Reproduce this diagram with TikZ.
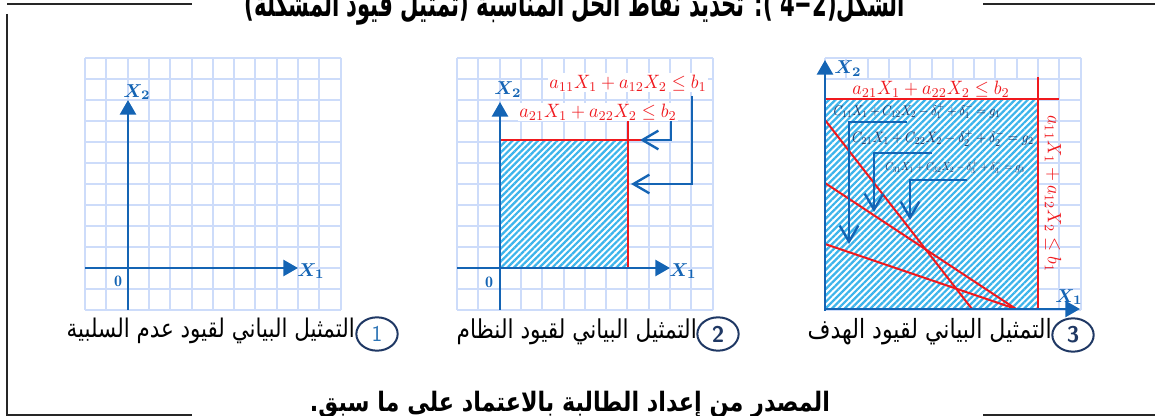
\documentclass[tikz,border=0pt]{standalone}
\usepackage{amsmath,bm}
\usepackage{fontspec}
\usepackage{graphicx}
\newfontfamily\arabicfont[Script=Arabic]{DejaVu Sans}
\TeXXeTstate=1
\usetikzlibrary{arrows.meta,patterns.meta,shapes.geometric}
\definecolor{gridc}{RGB}{205,220,250}
\definecolor{axisc}{RGB}{20,100,180}
\definecolor{redc}{RGB}{240,25,30}
\definecolor{hatchc}{RGB}{60,180,235}
\definecolor{eqc}{RGB}{35,52,98}
\definecolor{navy}{RGB}{31,56,100}
\definecolor{digitblue}{RGB}{46,117,182}
\tikzset{
  gridline/.style={draw=gridc, line width=1.5pt},
  axis/.style={draw=axisc, line width=2pt, -{Triangle[length=11pt,width=12pt]}},
  conline/.style={draw=axisc, line width=1.8pt, -{Straight Barb[length=12pt,width=14pt]}},
  redline/.style={draw=redc, line width=1.5pt},
  hatch/.style={pattern={Lines[angle=45,distance=3.4pt,line width=1.7pt]}, pattern color=hatchc},
  axlab/.style={text=axisc, inner sep=0pt},
  redlab/.style={text=redc, fill=white, inner sep=1pt},
  eqlab/.style={text=eqc, inner sep=0pt},
  numcirc/.style={ellipse, draw=navy, line width=1.5pt, minimum width=31pt, minimum height=25pt, inner sep=0pt, fill=white, font=\fontsize{17}{17}\sffamily\bfseries},
  capt/.style={anchor=base east, inner sep=0pt},
  frameline/.style={draw=black!85, line width=1.5pt}
}
\newcommand\mygridat[1]{%
  \foreach \i in {0,...,12}{\draw[gridline] ({#1+\i*21.3},58) -- ({#1+\i*21.3},310);}
  \foreach \j in {0,...,12}{\draw[gridline] (#1,{58+\j*21}) -- ({#1+255.6},{58+\j*21});}
}
\begin{document}
\begin{tikzpicture}[x=0.75pt,y=-0.75pt]
\useasboundingbox (0,0) rectangle (1155,416);
% frame
\draw[frameline] (7,4) -- (192,4);
\draw[frameline] (983,4) -- (1155,4);
\draw[frameline] (7,14) -- (7,415) -- (192,415);
\draw[frameline] (983,415) -- (1155,415);
\node[anchor=base, inner sep=0pt] (title) at (575,17) {\scalebox{1}[1.7]{\resizebox{495pt}{!}{\arabicfont\bfseries\beginR الشكل(\beginL 4−2\endL{} ): تحديد نقاط الحل المناسبة (تمثيل قيود المشكلة)\endR}}};
\node[anchor=base, inner sep=0pt] (source) at (570,411) {\scalebox{1}[1.2]{\resizebox{390pt}{!}{\arabicfont\bfseries\beginR المصدر من إعداد الطالبة بالاعتماد على ما سبق.\endR}}};

% ---------- panel 1
\mygridat{85}
\coordinate (o1b) at (128,310); \coordinate (o1t) at (128,100);
\coordinate (o1l) at (85,268); \coordinate (o1r) at (298,268);
\draw[axis] (o1b) -- (o1t);
\draw[axis] (o1l) -- (o1r);
\node[axlab] (p1x2) at (137,92) {\scalebox{1.4}{$\bm{X_2}$}};
\node[axlab] (p1x1) at (311,271) {\scalebox{1.4}{$\bm{X_1}$}};
\node[axlab] (p1o) at (118,281) {\scalebox{1.2}{$\mathbf{0}$}};

% ---------- panel 2
\mygridat{457}
\fill[white] (500,141) rectangle (627,268);
\fill[hatch] (500,141) rectangle (627,268);
\coordinate (r2a) at (500,140); \coordinate (r2b) at (657,140);
\coordinate (r2c) at (628,121); \coordinate (r2d) at (628,268);
\draw[redline] (r2a) -- (r2b);
\draw[redline] (r2c) -- (r2d);
\coordinate (o2b) at (500,310); \coordinate (o2t) at (500,102);
\coordinate (o2l) at (457,268); \coordinate (o2r) at (670,268);
\draw[axis] (o2b) -- (o2t);
\draw[axis] (o2l) -- (o2r);
\node[axlab] (p2x2) at (508,90) {\scalebox{1.4}{$\bm{X_2}$}};
\node[axlab] (p2x1) at (683,271) {\scalebox{1.4}{$\bm{X_1}$}};
\node[axlab] (p2o) at (489,282) {\scalebox{1.2}{$\mathbf{0}$}};
\node[redlab] (p2b1) at (628,83) {\scalebox{1.35}[1.45]{$a_{11}X_1 + a_{12}X_2 \le b_1$}};
\node[redlab] (p2b2) at (598,112) {\scalebox{1.35}[1.45]{$a_{21}X_1 + a_{22}X_2 \le b_2$}};
\coordinate (c1a) at (671,121); \coordinate (c1t) at (640,140);
\coordinate (c2a) at (692,96); \coordinate (c2t) at (631,184);
\draw[conline] (c1a) |- (c1t);
\draw[conline] (c2a) |- (c2t);

% ---------- panel 3
\mygridat{825}
\fill[white] (826,100) rectangle (1037,308);
\fill[hatch] (826,100) rectangle (1037,308);
\node[redlab, minimum width=157pt, minimum height=12.5pt] (p3b2) at (931,89.5) {\scalebox{1.35}[1.45]{$a_{21}X_1 + a_{22}X_2 \le b_2$}};
\coordinate (r3a) at (825,99); \coordinate (r3b) at (1059,99);
\coordinate (r3c) at (1038,77); \coordinate (r3d) at (1038,309);
\draw[redline] (r3a) -- (r3b);
\draw[redline] (r3c) -- (r3d);
\coordinate (la1) at (825,120); \coordinate (la2) at (972,309);
\coordinate (lb1) at (825,183); \coordinate (lb2) at (1016,309);
\coordinate (lc1) at (825,244); \coordinate (lc2) at (1016,309);
\draw[redline] (la1) -- (la2);
\draw[redline] (lb1) -- (lb2);
\draw[redline] (lc1) -- (lc2);
\node[redlab, fill=none, rotate=-90] (p3b1) at (1053,194) {\scalebox{1.35}[1.45]{$a_{11}X_1 + a_{12}X_2 \le b_1$}};
\node[eqlab] (eq1) at (917,111) {\scalebox{0.9}[1.05]{$C_{11}X_1 + C_{12}X_2 - \delta_1^{+} + \delta_1^{-} = g_1$}};
\node[eqlab] (eq2) at (943,138) {\scalebox{0.98}[1.13]{$C_{21}X_1 + C_{22}X_2 - \delta_2^{+} + \delta_2^{-} = g_2$}};
\node[eqlab] (eq3) at (955,167) {\scalebox{0.75}[0.86]{$C_{31}X_1 + C_{32}X_2 - \delta_3^{+} + \delta_3^{-} = g_3$}};
\coordinate (d1a) at (907,122); \coordinate (d1t) at (849,244);
\coordinate (d2a) at (932,153); \coordinate (d2t) at (874,212);
\coordinate (d3a) at (967,180); \coordinate (d3t) at (910,220);
\draw[conline] (d1a) -| (d1t);
\draw[conline] (d2a) -| (d2t);
\draw[conline] (d3a) -| (d3t);
\coordinate (o3b) at (825,311); \coordinate (o3t) at (825,60);
\coordinate (o3l) at (825,309); \coordinate (o3r) at (1080,309);
\draw[axis] (o3b) -- (o3t);
\draw[axis] (o3l) -- (o3r);
\node[axlab] (p3x2) at (848,69) {\scalebox{1.4}{$\bm{X_2}$}};
\node[axlab] (p3x1) at (1069,297) {\scalebox{1.4}{$\bm{X_1}$}};

% ---------- captions
\node[numcirc, text=digitblue, font=\fontsize{17}{17}\sffamily] (n1) at (377,334) {1};
\node[numcirc, text=navy] (n2) at (718,334) {2};
\node[numcirc, text=navy] (n3) at (1073,335) {3};
\node[capt] (cap1) at (355,338) {\scalebox{1}[1.2]{\resizebox{216pt}{!}{\arabicfont\beginR التمثيل البياني لقيود عدم السلبية\endR}}};
\node[capt] (cap2) at (697,338) {\scalebox{1}[1.2]{\resizebox{180pt}{!}{\arabicfont\beginR التمثيل البياني لقيود النظام\endR}}};
\node[capt] (cap3) at (1052,338) {\scalebox{1}[1.2]{\resizebox{183pt}{!}{\arabicfont\beginR التمثيل البياني لقيود الهدف\endR}}};
\end{tikzpicture}
\end{document}
